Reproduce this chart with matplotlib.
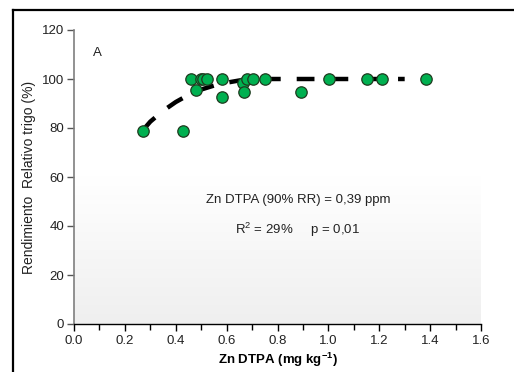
import numpy as np
import matplotlib
matplotlib.use("Agg")
import matplotlib.pyplot as plt
from matplotlib.lines import Line2D

plt.rcParams['font.family'] = ['Liberation Sans', 'DejaVu Sans']

# Observed data (Zn DTPA mg/kg, relative yield %)
zn_dtpa = [0.270, 0.430, 0.460, 0.480, 0.498, 0.508, 0.521, 0.580, 0.580,
           0.663, 0.670, 0.679, 0.702, 0.751, 0.891, 1.001, 1.152, 1.211, 1.382]
rel_yield = [78.8, 78.8, 100, 95.5, 100, 100, 100, 100, 92.8,
             98.2, 94.8, 100, 100, 100, 94.8, 100, 100, 100, 100]

# Fitted response curve
fit_x = [0.27, 0.30, 0.35, 0.40, 0.45, 0.50, 0.55, 0.60, 0.65, 0.72, 1.00, 1.30]
fit_y = [79.0, 82.6, 87.0, 90.6, 93.5, 95.7, 97.3, 98.5, 99.4, 100.0, 100.0, 100.0]

xticks = [0.0, 0.2, 0.4, 0.6, 0.8, 1.0, 1.2, 1.4, 1.6]
yticks = [0, 20, 40, 60, 80, 100, 120]

W, H = 514, 372
fig = plt.figure(figsize=(W / 100, H / 100), dpi=100)
ax = fig.add_axes([74 / W, 1 - 324 / H, (481 - 74) / W, (324 - 30) / H])

# gradient background
grad = np.linspace(0, 1, 256).reshape(-1, 1)
from matplotlib.colors import LinearSegmentedColormap
cmap = LinearSegmentedColormap.from_list('g', ['#ffffff', '#ffffff', '#efefef'])
ax.imshow(grad, extent=[0, 1, 0, 1], transform=ax.transAxes, aspect='auto',
          cmap=cmap, origin='upper', zorder=0)

ax.plot(fit_x, fit_y, color='black', lw=3.2, linestyle=(0, (4.0, 3.6)),
        dash_capstyle='butt', zorder=2)
ax.plot(zn_dtpa, rel_yield, linestyle='none', marker='o', markersize=8.2,
        markerfacecolor='#00b050', markeredgecolor='#1f3b1f', markeredgewidth=0.9,
        zorder=3)

ax.set_xlim(0, 1.6)
ax.set_ylim(0, 120)
ax.set_xticks(xticks)
ax.set_xticklabels([f"{t:.1f}" for t in xticks])
ax.set_xticks(np.arange(0.1, 1.6, 0.2), minor=True)
ax.set_yticks(yticks)
ax.set_yticklabels([str(t) for t in yticks])

for s in ['top', 'right']:
    ax.spines[s].set_visible(False)
ax.spines['left'].set_color('#7f7f7f')
ax.spines['left'].set_linewidth(1.2)
ax.spines['bottom'].set_color('#000000')
ax.spines['bottom'].set_linewidth(1.0)

ax.tick_params(axis='y', direction='out', length=5, width=1, color='#555555',
               labelsize=9.5, labelcolor='#222222', pad=2)
ax.tick_params(axis='x', which='major', direction='out', length=5, width=1,
               color='#000000', labelsize=9.5, labelcolor='#222222', pad=3)
ax.tick_params(axis='x', which='minor', direction='out', length=4, width=1,
               color='#000000')

ax.set_xlabel('Zn DTPA (mg kg$^{\\mathregular{-1}}$)', fontsize=9.5, fontweight='bold',
              labelpad=3)
ax.set_ylabel('Rendimiento  Relativo trigo (%)', fontsize=10, color='#222222',
              labelpad=4)

ax.text(0.075, 110.5, 'A', fontsize=9.5, color='#222222', ha='left', va='center')
ax.text(0.88, 50.6, 'Zn DTPA (90% RR) = 0,39 ppm', fontsize=9.5, color='#222222',
        ha='center', va='center')
ax.text(0.88, 38.4, 'R$^{\\mathregular{2}}$ = 29%     p = 0,01', fontsize=9.5,
        color='#222222', ha='center', va='center')

# outer frame (left and top edges visible)
fig.add_artist(Line2D([13 / W, 13 / W], [0, 1 - 10 / H], transform=fig.transFigure,
                      color='black', lw=1.6))
fig.add_artist(Line2D([13 / W, 1], [1 - 10 / H, 1 - 10 / H], transform=fig.transFigure,
                      color='black', lw=1.6))

fig.savefig('out.png', dpi=100)
